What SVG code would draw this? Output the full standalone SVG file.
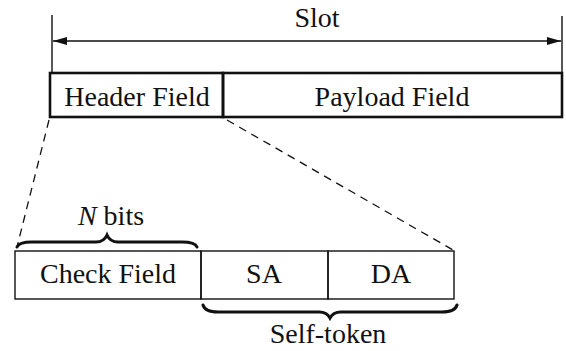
<svg xmlns="http://www.w3.org/2000/svg" width="566" height="351" viewBox="0 0 566 351">
<style>
text{font-family:"Liberation Serif","Times New Roman",serif;font-size:28px;fill:#111;text-anchor:middle}
.box{fill:none;stroke:#111;stroke-width:2.6}
.thin{fill:none;stroke:#111;stroke-width:1.4}
.dash{fill:none;stroke:#111;stroke-width:1.3;stroke-dasharray:8,6}
.brace{fill:none;stroke:#111;stroke-width:3;stroke-linecap:round}
</style>
<defs>
<marker id="ah" viewBox="0 0 14 8" refX="14" refY="4" markerWidth="14" markerHeight="8" markerUnits="userSpaceOnUse" orient="auto-start-reverse">
<path d="M0,0 L14,4 L0,8 z" fill="#111"/>
</marker>
</defs>
<g id="connectors">
<line class="thin" x1="52" y1="15" x2="52" y2="73"/>
<line class="thin" x1="562" y1="16" x2="562" y2="73"/>
<line class="thin" x1="53" y1="41" x2="561" y2="41" marker-start="url(#ah)" marker-end="url(#ah)"/>
<line class="dash" x1="49" y1="120" x2="17" y2="247"/>
<line class="dash" x1="227" y1="120" x2="453" y2="250"/>
</g>
<g id="slot-label"><text x="317" y="27">Slot</text></g>
<g id="header">
<rect class="box" x="50" y="73" width="173" height="44"/>
<text x="137" y="106">Header Field</text>
</g>
<g id="payload">
<rect class="box" x="223" y="73" width="339" height="44"/>
<text x="392" y="106">Payload Field</text>
</g>
<g id="nbits">
<path class="brace" d="M17,247 Q19,242 32,242 L96,242 Q104,242 107,235 Q110,242 118,242 L182,242 Q195,242 197,247"/>
<text x="111" y="225"><tspan font-style="italic">N</tspan> bits</text>
</g>
<g id="check">
<rect class="thin" x="15" y="251" width="186" height="48"/>
<text x="108" y="283">Check Field</text>
</g>
<g id="sa">
<rect class="thin" x="201" y="251" width="127" height="48"/>
<text x="264" y="283">SA</text>
</g>
<g id="da">
<rect class="thin" x="328" y="251" width="126" height="48"/>
<text x="391" y="283">DA</text>
</g>
<g id="selftoken">
<path class="brace" d="M203,305 Q205,312 218,312 L319,312 Q327,312 330,318 Q333,312 341,312 L442,312 Q455,312 457,305"/>
<text x="328" y="343">Self-token</text>
</g>
</svg>
